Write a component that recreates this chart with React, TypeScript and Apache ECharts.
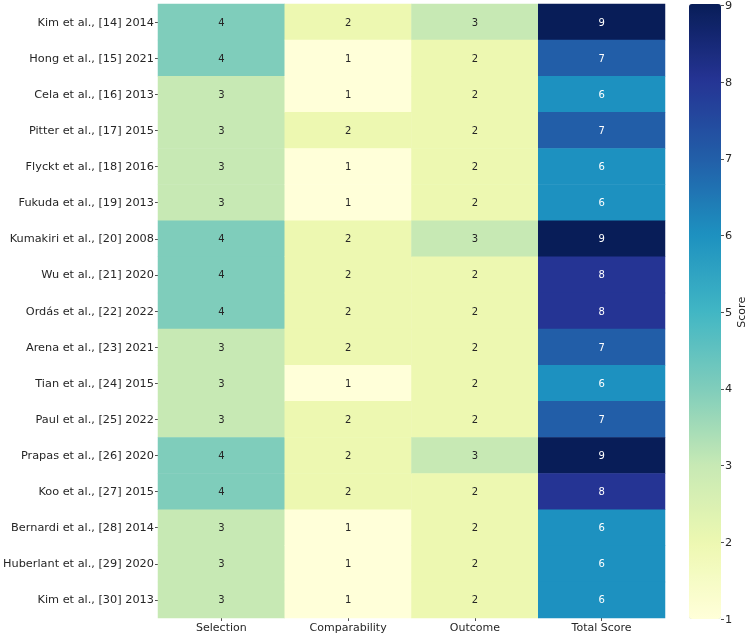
import React, { useEffect, useRef } from "react";
import * as echarts from "echarts";

const studies = [
  "Kim et al., [14] 2014",
  "Hong et al., [15] 2021",
  "Cela et al., [16] 2013",
  "Pitter et al., [17] 2015",
  "Flyckt et al., [18] 2016",
  "Fukuda et al., [19] 2013",
  "Kumakiri et al., [20] 2008",
  "Wu et al., [21] 2020",
  "Ordás et al., [22] 2022",
  "Arena et al., [23] 2021",
  "Tian et al., [24] 2015",
  "Paul et al., [25] 2022",
  "Prapas et al., [26] 2020",
  "Koo et al., [27] 2015",
  "Bernardi et al., [28] 2014",
  "Huberlant et al., [29] 2020",
  "Kim et al., [30] 2013",
];

const domains = ["Selection", "Comparability", "Outcome", "Total Score"];

const selection = [4, 4, 3, 3, 3, 3, 4, 4, 4, 3, 3, 3, 4, 4, 3, 3, 3];
const comparability = [2, 1, 1, 2, 1, 1, 2, 2, 2, 2, 1, 2, 2, 2, 1, 1, 1];
const outcome = [3, 2, 2, 2, 2, 2, 3, 2, 2, 2, 2, 2, 3, 2, 2, 2, 2];
const totalScore = [9, 7, 6, 7, 6, 6, 9, 8, 8, 7, 6, 7, 9, 8, 6, 6, 6];

const scaleTicks = [1, 2, 3, 4, 5, 6, 7, 8, 9];

// YlGnBu palette
const ylGnBu = [
  "#ffffd9",
  "#edf8b1",
  "#c7e9b4",
  "#7fcdbb",
  "#41b6c4",
  "#1d91c0",
  "#225ea8",
  "#253494",
  "#081d58",
];

const FONT = "DejaVu Sans";
const TEXT = "#262626";

export default function App() {
  const ref = useRef<HTMLDivElement>(null);

  useEffect(() => {
    if (!ref.current) return;
    const chart = echarts.init(ref.current, null, { renderer: "svg" });

    const columns = [selection, comparability, outcome, totalScore];
    const cells: any[] = [];
    columns.forEach((col, c) => {
      col.forEach((v, r) => {
        cells.push({
          value: [c, r, v],
          label: { color: v >= 6 ? "#ffffff" : TEXT },
        });
      });
    });

    const gridLeft = 157;
    const gridRight = 665;
    const gridTop = 4;
    const gridBottom = 619;
    const barLeft = 689;
    const barWidth = 32;

    chart.setOption({
      animation: false,
      textStyle: { fontFamily: FONT },
      grid: [
        {
          left: gridLeft,
          top: gridTop,
          width: gridRight - gridLeft,
          height: gridBottom - gridTop,
        },
        {
          left: barLeft,
          top: gridTop,
          width: barWidth,
          height: gridBottom - gridTop,
        },
      ],
      xAxis: [
        {
          type: "category",
          gridIndex: 0,
          data: domains,
          position: "bottom",
          axisLine: { show: false },
          axisTick: {
            show: true,
            alignWithLabel: true,
            length: 3,
            lineStyle: { color: TEXT, width: 0.8 },
          },
          axisLabel: { color: TEXT, fontSize: 11, fontFamily: FONT, margin: 4 },
          splitLine: { show: false },
        },
        {
          type: "category",
          gridIndex: 1,
          data: [""],
          axisLine: { show: false },
          axisTick: { show: false },
          axisLabel: { show: false },
          splitLine: { show: false },
        },
      ],
      yAxis: [
        {
          type: "category",
          gridIndex: 0,
          data: studies,
          inverse: true,
          axisLine: { show: false },
          axisTick: {
            show: true,
            alignWithLabel: true,
            length: 3,
            lineStyle: { color: TEXT, width: 0.8 },
          },
          axisLabel: { color: TEXT, fontSize: 11.3, fontFamily: FONT, margin: 4 },
          splitLine: { show: false },
        },
        {
          type: "value",
          gridIndex: 1,
          position: "right",
          min: 1,
          max: 9,
          interval: 1,
          axisLine: { show: false },
          axisTick: {
            show: true,
            length: 3,
            lineStyle: { color: TEXT, width: 0.8 },
          },
          axisLabel: {
            color: TEXT,
            fontSize: 11.3,
            fontFamily: FONT,
            margin: 4,
            formatter: (v: number) => (scaleTicks.includes(v) ? String(v) : ""),
          },
          splitLine: { show: false },
          name: "Score",
          nameLocation: "middle",
          nameRotate: 90,
          nameGap: 12,
          nameTextStyle: { color: TEXT, fontSize: 11, fontFamily: FONT },
        },
      ],
      visualMap: {
        type: "continuous",
        min: 1,
        max: 9,
        seriesIndex: 0,
        orient: "vertical",
        left: barLeft,
        top: gridTop,
        itemWidth: barWidth,
        itemHeight: gridBottom - gridTop,
        padding: 0,
        showLabel: false,
        calculable: false,
        hoverLink: false,
        inRange: { color: ylGnBu },
      },
      series: [
        {
          type: "heatmap",
          xAxisIndex: 0,
          yAxisIndex: 0,
          data: cells,
          itemStyle: { borderWidth: 0 },
          label: {
            show: true,
            fontSize: 10,
            fontFamily: FONT,
            formatter: (p: any) => String(p.value[2]),
          },
          emphasis: { disabled: true },
        },
      ],
    });

    return () => chart.dispose();
  }, []);

  return (
    <div
      ref={ref}
      style={{ position: "fixed", left: 0, top: 0, width: 750, height: 633 }}
    />
  );
}
